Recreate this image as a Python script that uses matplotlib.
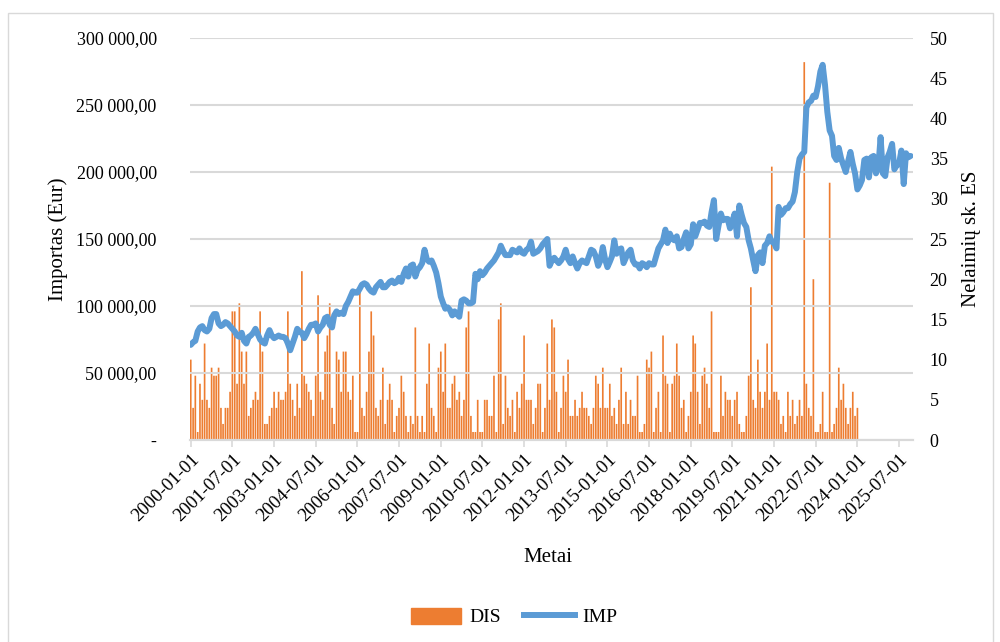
import numpy as np
import pandas as pd
import matplotlib
matplotlib.use('Agg')
import matplotlib.pyplot as plt
from matplotlib.patches import Patch, Rectangle
from matplotlib.lines import Line2D
from matplotlib.ticker import FuncFormatter

plt.rcParams['font.family'] = ['Liberation Serif', 'DejaVu Serif']

# IMP - importas, thousand EUR, monthly values 2000-01 .. 2025-12
imp_2000 = [71, 73, 74, 81, 84, 85, 82, 81, 83, 91, 94, 94]
imp_2001 = [87, 85, 86, 88, 87, 85, 83, 81, 78, 77, 80, 74]
imp_2002 = [72, 77, 78, 80, 83, 79, 75, 73, 72, 78, 82, 78]
imp_2003 = [76, 77, 78, 77, 77, 76, 72, 67, 72, 77, 83, 81]
imp_2004 = [80, 76, 79, 83, 86, 86, 87, 81, 84, 86, 91, 92]
imp_2005 = [86, 84, 93, 96, 94, 95, 94, 100, 103, 107, 111, 110]
imp_2006 = [110, 113, 116, 117, 116, 113, 111, 110, 114, 116, 118, 114]
imp_2007 = [114, 116, 118, 119, 117, 118, 121, 118, 124, 128, 122, 130]
imp_2008 = [131, 122, 127, 129, 132, 142, 135, 133, 134, 130, 125, 117]
imp_2009 = [107, 102, 98, 99, 97, 93, 96, 94, 92, 104, 105, 104]
imp_2010 = [102, 102, 103, 124, 120, 126, 123, 125, 128, 130, 132, 134]
imp_2011 = [137, 140, 145, 141, 138, 138, 138, 142, 141, 140, 143, 140]
imp_2012 = [139, 142, 143, 148, 139, 140, 141, 143, 146, 148, 150, 130]
imp_2013 = [134, 136, 134, 132, 134, 137, 142, 135, 132, 137, 132, 128]
imp_2014 = [132, 134, 133, 132, 137, 142, 141, 137, 130, 134, 144, 135]
imp_2015 = [129, 133, 137, 149, 139, 142, 143, 132, 136, 140, 142, 134]
imp_2016 = [131, 131, 128, 132, 131, 129, 132, 131, 131, 137, 143, 146]
imp_2017 = [149, 157, 147, 154, 150, 149, 152, 143, 144, 150, 155, 143]
imp_2018 = [146, 161, 152, 157, 162, 162, 163, 160, 159, 170, 179, 150]
imp_2019 = [160, 169, 164, 165, 165, 158, 163, 169, 152, 175, 168, 162]
imp_2020 = [159, 149, 143, 134, 126, 138, 140, 132, 145, 147, 152, 148]
imp_2021 = [147, 143, 174, 168, 170, 173, 173, 176, 178, 185, 200, 210]
imp_2022 = [213, 215, 248, 252, 253, 257, 256, 264, 275, 280, 265, 245]
imp_2023 = [231, 227, 212, 209, 218, 210, 205, 200, 208, 215, 206, 199]
imp_2024 = [187, 190, 194, 209, 210, 196, 211, 212, 199, 203, 226, 199]
imp_2025 = [197, 211, 215, 221, 202, 205, 206, 216, 191, 214, 211, 212]

# DIS - nelaimiu skaicius ES, monthly values 2000-01 .. 2024-01
dis_2000 = [10, 4, 8, 1, 7, 5, 12, 5, 4, 9, 8, 8]
dis_2001 = [9, 4, 2, 4, 4, 6, 16, 16, 7, 17, 11, 7]
dis_2002 = [11, 3, 4, 5, 6, 5, 16, 11, 2, 2, 3, 4]
dis_2003 = [6, 4, 6, 5, 5, 6, 16, 7, 5, 3, 7, 4]
dis_2004 = [21, 8, 7, 6, 5, 3, 8, 18, 6, 5, 11, 13]
dis_2005 = [17, 4, 2, 11, 10, 6, 11, 11, 6, 5, 8, 1]
dis_2006 = [1, 19, 4, 3, 6, 11, 16, 13, 4, 3, 5, 9]
dis_2007 = [2, 5, 7, 5, 1, 3, 4, 8, 6, 3, 1, 3]
dis_2008 = [2, 14, 3, 1, 3, 1, 7, 12, 4, 3, 1, 9]
dis_2009 = [11, 6, 12, 4, 4, 7, 8, 5, 6, 3, 5, 14]
dis_2010 = [16, 3, 1, 1, 5, 1, 1, 5, 5, 3, 3, 8]
dis_2011 = [1, 15, 17, 2, 8, 4, 3, 5, 1, 6, 4, 7]
dis_2012 = [13, 5, 5, 5, 2, 4, 7, 7, 1, 4, 12, 5]
dis_2013 = [15, 14, 6, 1, 4, 8, 6, 10, 3, 3, 5, 3]
dis_2014 = [4, 6, 4, 4, 3, 2, 4, 8, 7, 4, 9, 4]
dis_2015 = [4, 7, 3, 4, 2, 5, 9, 2, 6, 2, 5, 3]
dis_2016 = [3, 8, 1, 1, 2, 10, 9, 11, 1, 4, 6, 1]
dis_2017 = [13, 8, 7, 1, 7, 8, 12, 8, 4, 5, 1, 3]
dis_2018 = [6, 13, 12, 6, 2, 8, 9, 7, 4, 16, 1, 1]
dis_2019 = [1, 8, 3, 6, 5, 5, 3, 5, 6, 2, 1, 1]
dis_2020 = [3, 8, 19, 5, 4, 10, 6, 4, 6, 12, 5, 34]
dis_2021 = [6, 6, 5, 2, 3, 1, 6, 3, 5, 2, 3, 5]
dis_2022 = [3, 47, 7, 4, 3, 20, 1, 1, 2, 6, 1, 1]
dis_2023 = [32, 1, 2, 4, 9, 5, 7, 4, 2, 4, 6, 3]
dis_2024 = [4]

imp = np.array(imp_2000 + imp_2001 + imp_2002 + imp_2003 + imp_2004 + imp_2005 +
               imp_2006 + imp_2007 + imp_2008 + imp_2009 + imp_2010 + imp_2011 +
               imp_2012 + imp_2013 + imp_2014 + imp_2015 + imp_2016 + imp_2017 +
               imp_2018 + imp_2019 + imp_2020 + imp_2021 + imp_2022 + imp_2023 +
               imp_2024 + imp_2025) * 1000.0
dis = np.array(dis_2000 + dis_2001 + dis_2002 + dis_2003 + dis_2004 + dis_2005 +
               dis_2006 + dis_2007 + dis_2008 + dis_2009 + dis_2010 + dis_2011 +
               dis_2012 + dis_2013 + dis_2014 + dis_2015 + dis_2016 + dis_2017 +
               dis_2018 + dis_2019 + dis_2020 + dis_2021 + dis_2022 + dis_2023 +
               dis_2024)

imp_dates = pd.date_range('2000-01-01', periods=len(imp), freq='MS')
dis_dates = pd.date_range('2000-01-01', periods=len(dis), freq='MS')
tick_dates = pd.date_range('2000-01-01', '2025-07-01', freq='18MS')

orange = '#ED7D31'
blue = '#5B9BD5'
grid_c = '#d9d9d9'

fig = plt.figure(figsize=(10, 6.42), dpi=100)
fig.patches.append(Rectangle((0.008, -0.01), 0.985, 0.99, transform=fig.transFigure,
                             fill=False, edgecolor=grid_c, lw=1.0))

ax = fig.add_axes([0.19, 0.3146, 0.723, 0.6262])
ax2 = ax.twinx()
ax.set_zorder(ax2.get_zorder() + 1)
ax.patch.set_visible(False)

# bars (right axis)
ax2.bar(dis_dates, dis, width=22, color=orange, linewidth=0, snap=False)
ax2.set_ylim(0, 50)
ax2.set_yticks(np.arange(0, 51, 5))

# line (left axis)
ax.plot(imp_dates, imp, color=blue, lw=4.3, solid_joinstyle='round', solid_capstyle='round')
ax.set_ylim(0, 300000)
ax.set_yticks(np.arange(0, 300001, 50000))

def fmt(v, pos):
    if v == 0:
        return '-'
    return f'{v:,.2f}'.replace(',', ' ').replace('.', ',')

ax.yaxis.set_major_formatter(FuncFormatter(fmt))
ax.grid(axis='y', color=grid_c, lw=1.5)
ax.set_axisbelow(True)

ax.set_xlim(pd.Timestamp('1999-12-22'), pd.Timestamp('2026-01-01'))
ax.set_xticks(tick_dates)
ax.set_xticklabels([d.strftime('%Y-%m-%d') for d in tick_dates], rotation=45,
                   ha='right', rotation_mode='anchor', fontsize=13.5)

for a in (ax, ax2):
    for s in ('left', 'right', 'top'):
        a.spines[s].set_visible(False)
    a.spines['bottom'].set_color(grid_c)
    a.spines['bottom'].set_linewidth(1.5)

ax.tick_params(axis='x', length=5, color=grid_c, width=1.2, pad=3)
ax.tick_params(axis='y', length=0, labelsize=13, pad=24)
ax2.tick_params(axis='y', length=0, labelsize=13, pad=12)

ax.set_ylabel('Importas (Eur)', fontsize=15, labelpad=6)
ax2.set_ylabel('Nelaimių sk. ES', fontsize=15, labelpad=10)
fig.text(0.548, 1 - 558 / 642, 'Metai', ha='center', va='center', fontsize=15)

handles = [Patch(color=orange), Line2D([], [], color=blue, lw=4.3)]
fig.legend(handles, ['DIS', 'IMP'], loc='center', bbox_to_anchor=(0.514, 0.039),
           ncol=2, frameon=False, fontsize=14, handlelength=2.6, handleheight=0.9,
           columnspacing=1.2, handletextpad=0.4)

fig.savefig('out.png', dpi=100)
